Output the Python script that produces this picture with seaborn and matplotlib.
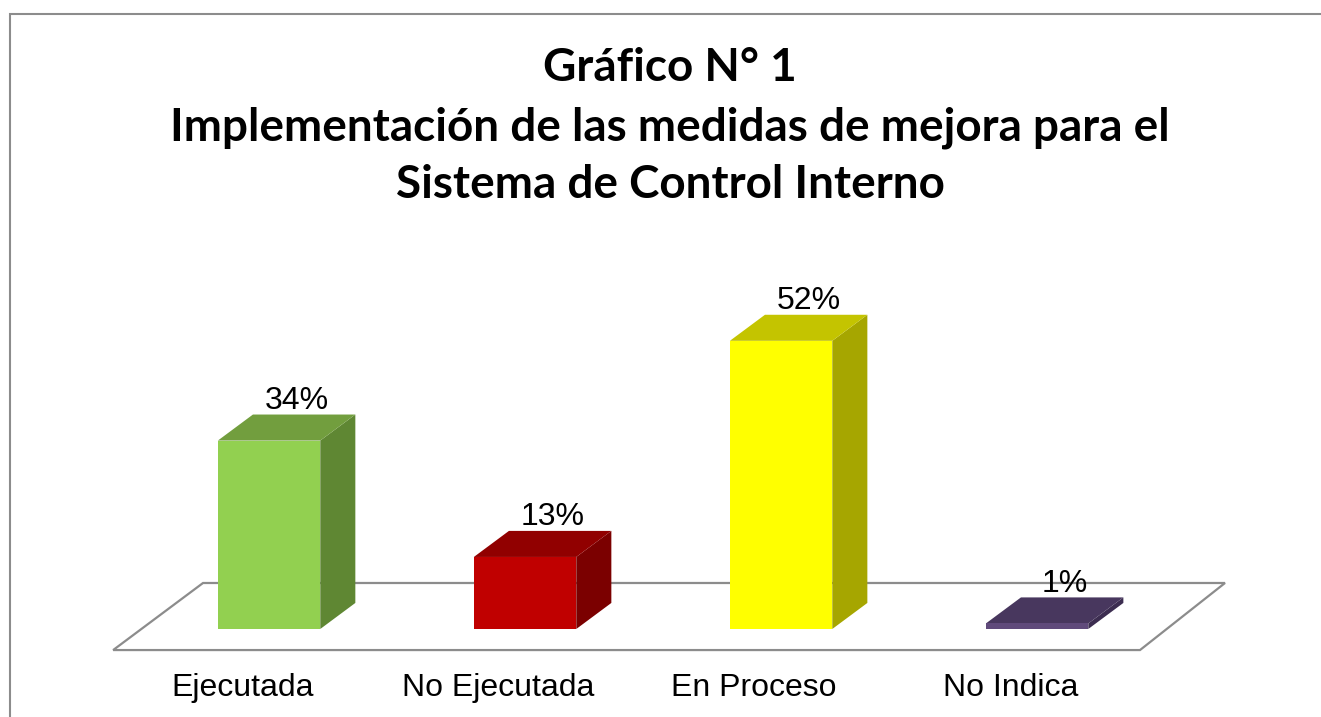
import matplotlib
matplotlib.use("Agg")
import matplotlib.pyplot as plt
from matplotlib.patches import Polygon, Rectangle
import seaborn as sns

# Data
categories = ["Ejecutada", "No Ejecutada", "En Proceso", "No Indica"]
values = [34, 13, 52, 1]
value_labels = ["34%", "13%", "52%", "1%"]

# colours (front, top, side) per bar
front_colors = ["#92D050", "#C00000", "#FFFF00", "#604A7B"]
top_colors = ["#729E3E", "#910000", "#C4C400", "#48375E"]
side_colors = ["#5F8733", "#7B0000", "#A6A600", "#3C2D50"]

title_lines = ["Gráfico N° 1",
               "Implementación de las medidas de mejora para el",
               "Sistema de Control Interno"]

# 3-D look: depth offset in data units
DX, DY = 0.137, 4.7

sns.set_theme(style="white")
plt.rcParams["font.family"] = ["Liberation Sans", "DejaVu Sans"]

fig = plt.figure(figsize=(13.21, 7.17), dpi=100)
ax = fig.add_axes([0, 0, 1, 1])

# outer chart border (only top & left are visible in the picture)
fig.patches.append(Rectangle((10 / 1321, -0.1), 1.2, 1 - 14 / 717 + 0.1,
                             transform=fig.transFigure, fill=False,
                             edgecolor="#8C8C8C", linewidth=1.5))

# floor
floor = Polygon([(-0.609, -3.8), (3.402, -3.8), (3.734, 8.3), (-0.258, 8.3)],
                closed=True, facecolor="white", edgecolor="#8C8C8C",
                linewidth=1.6, zorder=1)
ax.add_patch(floor)

sns.barplot(x=categories, y=values, hue=categories, palette=front_colors,
            width=0.4, legend=False, ax=ax, saturation=1, zorder=3)

# seaborn resets limits, so fix them afterwards
ax.set_xlim(-1.051, 4.109)
ax.set_ylim(-15.88, 113.5)
ax.axis("off")

bars = [p for p in ax.patches if p is not floor]
for i, bar in enumerate(bars):
    x0 = bar.get_x()
    w = bar.get_width()
    h = bar.get_height()
    side = Polygon([(x0 + w, 0), (x0 + w + DX, DY), (x0 + w + DX, h + DY), (x0 + w, h)],
                   closed=True, facecolor=side_colors[i], edgecolor="none", zorder=2)
    top = Polygon([(x0, h), (x0 + w, h), (x0 + w + DX, h + DY), (x0 + DX, h + DY)],
                  closed=True, facecolor=top_colors[i], edgecolor="none", zorder=2)
    ax.add_patch(side)
    ax.add_patch(top)
    bar.set_edgecolor("none")
    ax.text(x0 + w / 2 + DX / 2 + 0.04, h + DY + 1.0, value_labels[i],
            ha="center", va="baseline", fontsize=23, color="black", zorder=5)

# category labels along the floor's front edge
for i, cat in enumerate(categories):
    ax.text(i - 0.105, -10.65, cat, ha="center", va="center",
            fontsize=23, color="black")

# title
title_y = [68, 128, 185]
for line, py in zip(title_lines, title_y):
    fig.text(670 / 1321, 1 - py / 717, line, ha="center", va="center",
             fontsize=33, fontweight="bold", color="black",
             family=["Lato", "DejaVu Sans"])

fig.savefig("out.png", dpi=100, facecolor="white")
